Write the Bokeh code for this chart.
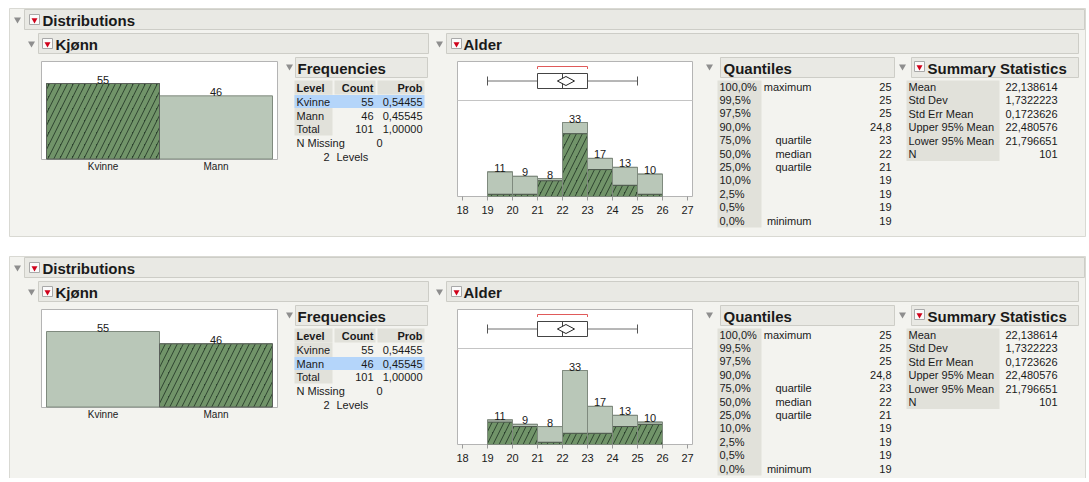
from bokeh.plotting import figure
from bokeh.models import Range1d
from bokeh.core.properties import value
from bokeh.embed import file_html
from bokeh.resources import INLINE

# ---------------- data ----------------
sex_levels = ["Kvinne", "Mann"]
sex_counts = [55, 46]
sex_probs = [0.54455, 0.45545]
sex_total = 101
sex_missing = 0

age_bin_left = [19, 20, 21, 22, 23, 24, 25]
age_bin_right = [20, 21, 22, 23, 24, 25, 26]
age_counts = [11, 9, 8, 33, 17, 13, 10]
age_kvinne = [1, 1, 7, 28, 12, 5, 1]
age_mann = [10, 8, 1, 5, 5, 8, 9]
age_ticks = [18, 19, 20, 21, 22, 23, 24, 25, 26, 27]

box_min, box_q1, box_median, box_q3, box_max = 19, 21, 22, 23, 25
short_half = [21, 23]
age_mean = 22.138614
age_lower95 = 21.796651
age_upper95 = 22.480576

quant_pct = ["100,0%", "99,5%", "97,5%", "90,0%", "75,0%", "50,0%", "25,0%", "10,0%", "2,5%", "0,5%", "0,0%"]
quant_name = ["maximum", "", "", "", "quartile", "median", "quartile", "", "", "", "minimum"]
quant_val = ["25", "25", "25", "24,8", "23", "22", "21", "19", "19", "19", "19"]

stat_names = ["Mean", "Std Dev", "Std Err Mean", "Upper 95% Mean", "Lower 95% Mean", "N"]
stat_vals = ["22,138614", "1,7322223", "0,1723626", "22,480576", "21,796651", "101"]

selected_level = ["Kvinne", "Mann"]   # top panel, bottom panel

# ---------------- page geometry ----------------
W, H = 1086, 478
PX0, PY0 = 1, 1
FONT = value("Liberation Sans")


def xr(v0, p0, v1, p1):
    k = (v1 - v0) / (p1 - p0)
    return Range1d(v0 + (PX0 - p0) * k, v0 + (PX0 + W - p0) * k)


def yr(v0, p0, v1, p1):
    k = (v1 - v0) / (p1 - p0)
    return Range1d(start=v0 + (PY0 + H - p0) * k, end=v0 + (PY0 - p0) * k)


p = figure(width=W, height=H, output_backend="svg", toolbar_location=None,
           x_range=Range1d(PX0, PX0 + W), y_range=Range1d(PY0 + H, PY0),
           x_axis_type=None, y_axis_type=None, min_border=0,
           background_fill_color="white", border_fill_color="white")
p.min_border_left = p.min_border_right = p.min_border_top = p.min_border_bottom = 0
p.outline_line_color = None
p.grid.visible = False

PANEL = "#f3f3ef"
HDR = "#e9e9e4"
HDR_LINE = "#cdcdc7"
CELL = "#e1e1da"
LIGHT = "#b9c7b8"
LIGHT_LINE = "#7f8a7e"
DARK = "#2c422e"
HATCH = "#719469"
TXT = "#1a1a1a"
HS, HW = 12, 4.5

p.extra_x_ranges = {"bx": xr(-0.5, 47, 1.5, 273), "hx": xr(19, 488, 26, 663)}
extra_y = {}

OFFS = [0, 248]


def txt(x, y, t, size="11px", align="left", bold=False, color=TXT, **kw):
    p.text(x=x, y=y, text=t, text_font=FONT, text_font_size=size,
           text_align=align, text_baseline="middle", text_color=color,
           text_font_style="bold" if bold else "normal", **kw)


def header(x0, x1, y0, y1):
    p.quad(left=[x0], right=[x1], top=[y0], bottom=[y1], fill_color=HDR,
           line_color=HDR_LINE, line_width=1)


def disclosure(x, y):
    p.scatter(x=[x], y=[y], marker="inverted_triangle", size=7,
              fill_color="#8e8e8e", line_color=None)


def menu_icon(x, y):
    p.quad(left=[x - 5], right=[x + 5], top=[y - 5], bottom=[y + 5],
           fill_color="#fbfbfb", line_color="#a8a8a8", line_width=1)
    p.scatter(x=[x], y=[y + 0.5], marker="inverted_triangle", size=6,
              fill_color="#d0021b", line_color=None)


for half, dy in enumerate(OFFS):
    sel = selected_level[half]
    sel_idx = sex_levels.index(sel)
    by = f"by{half}"
    hy = f"hy{half}"
    extra_y[by] = yr(0, 159.5 + dy, 55, 84 + dy)
    extra_y[hy] = yr(0, 197 + dy, 33, 123 + dy)
    p.extra_y_ranges = dict(extra_y)

    # outer panel
    p.quad(left=[10], right=[1086], top=[9 + dy], bottom=[237 + dy + (20 if half else 0)],
           fill_color=PANEL, line_color="#d9d9d3")

    # Distributions header
    header(25, 1085, 10 + dy, 30 + dy)
    disclosure(18, 20 + dy)
    menu_icon(35, 20 + dy)
    txt([43], [20.5 + dy], ["Distributions"], size="15px", bold=True)

    # Kjønn header
    header(39, 429, 34 + dy, 54 + dy)
    disclosure(32, 44 + dy)
    menu_icon(48, 44 + dy)
    txt([56], [44.5 + dy], ["Kjønn"], size="15px", bold=True)

    # Alder header
    header(447, 1079, 34 + dy, 54 + dy)
    disclosure(440, 44 + dy)
    menu_icon(457, 44 + dy)
    txt([464], [44.5 + dy], ["Alder"], size="15px", bold=True)

    # ---- bar chart Kjønn ----
    p.quad(left=[42], right=[278], top=[62 + dy], bottom=[160 + dy],
           fill_color="white", line_color="#b4b4b4")
    xs = list(range(len(sex_levels)))
    p.quad(left=[i - 0.5 for i in xs], right=[i + 0.5 for i in xs],
           bottom=[0] * len(xs), top=sex_counts, fill_color=LIGHT,
           line_color=LIGHT_LINE, x_range_name="bx", y_range_name=by)
    p.quad(left=[sel_idx - 0.5], right=[sel_idx + 0.5], bottom=[0],
           top=[sex_counts[sel_idx]], fill_color=DARK, hatch_pattern="/",
           hatch_color=HATCH, hatch_scale=HS, hatch_weight=HW,
           line_color="#5a5f5a", x_range_name="bx", y_range_name=by)
    p.text(x=xs, y=sex_counts, text=[str(c) for c in sex_counts],
           text_font=FONT, text_font_size="11px", text_align="center",
           text_baseline="bottom", text_color=TXT, x_range_name="bx", y_range_name=by)
    p.text(x=xs, y=[167 + dy] * len(xs), text=sex_levels, text_font=FONT,
           text_font_size="10px", text_align="center", text_baseline="middle",
           text_color=TXT, x_range_name="bx")

    # ---- Frequencies ----
    disclosure(290, 67 + dy)
    header(296, 428, 58 + dy, 78 + dy)
    txt([298], [68.5 + dy], ["Frequencies"], size="15px", bold=True)
    p.quad(left=[295, 335, 378], right=[333, 376, 425], top=[81 + dy] * 3,
           bottom=[95 + dy] * 3, fill_color=CELL, line_color=None)
    p.quad(left=[295], right=[333], top=[95 + dy], bottom=[136 + dy],
           fill_color=CELL, line_color=None)
    row_y = [102 + dy, 116 + dy]
    p.quad(left=[295], right=[425], top=[row_y[sel_idx] - 6.5], bottom=[row_y[sel_idx] + 6.5],
           fill_color="#b4d5fa", line_color=None)
    txt([297], [88 + dy], ["Level"], bold=True)
    txt([374, 423], [88 + dy] * 2, ["Count", "Prob"], align="right", bold=True)
    txt([297] * 3, row_y + [129 + dy], sex_levels + ["Total"])
    txt([374] * 3, row_y + [129 + dy], [str(c) for c in sex_counts] + [str(sex_total)], align="right")
    txt([423] * 3, row_y + [129 + dy],
        [f"{v:.5f}".replace(".", ",") for v in sex_probs] + ["1,00000"], align="right")
    txt([297], [143 + dy], ["N Missing"])
    txt([380], [143 + dy], [str(sex_missing)], align="center")
    txt([330], [157 + dy], [str(len(sex_levels))], align="right")
    txt([337], [157 + dy], ["Levels"])

    # ---- Alder histogram + box plot ----
    p.quad(left=[458], right=[693], top=[62 + dy], bottom=[197 + dy],
           fill_color="white", line_color="#b4b4b4")
    p.segment(x0=[458], x1=[693], y0=[101 + dy], y1=[101 + dy], line_color="#c4c4c4")
    # box plot
    by_c = 81.5 + dy
    p.segment(x0=[box_min, box_q3], x1=[box_q1, box_max], y0=[by_c, by_c], y1=[by_c, by_c],
              line_color="#6e6e6e", line_width=1, x_range_name="hx")
    p.segment(x0=[box_min, box_max], x1=[box_min, box_max], y0=[77 + dy] * 2,
              y1=[86 + dy] * 2, line_color="#555555", x_range_name="hx")
    p.quad(left=[box_q1], right=[box_q3], top=[74 + dy], bottom=[89 + dy],
           fill_color="white", line_color="#444444", line_width=1, x_range_name="hx")
    p.segment(x0=[box_median], x1=[box_median], y0=[74 + dy], y1=[89 + dy],
              line_color="#444444", x_range_name="hx")
    p.patch(x=[age_lower95, age_mean, age_upper95, age_mean],
            y=[by_c, by_c - 4.5, by_c, by_c + 4.5], fill_color="white",
            line_color="#222222", line_width=1, x_range_name="hx")
    p.multi_line(xs=[[short_half[0], short_half[0], short_half[1], short_half[1]]],
                 ys=[[69.5 + dy, 67 + dy, 67 + dy, 69.5 + dy]], line_color="#e05a5a",
                 line_width=1, x_range_name="hx")
    # histogram
    sel_counts = age_kvinne if sel == "Kvinne" else age_mann
    p.quad(left=age_bin_left, right=age_bin_right, bottom=[0] * 7, top=age_counts,
           fill_color=LIGHT, line_color=LIGHT_LINE, x_range_name="hx", y_range_name=hy)
    p.quad(left=age_bin_left, right=age_bin_right, bottom=[0] * 7, top=sel_counts,
           fill_color=DARK, hatch_pattern="/", hatch_color=HATCH, hatch_scale=HS,
           hatch_weight=HW, line_color="#4d564d", x_range_name="hx", y_range_name=hy)
    p.quad(left=age_bin_left, right=age_bin_right, bottom=[0] * 7, top=age_counts,
           fill_color=None, line_color=LIGHT_LINE, x_range_name="hx", y_range_name=hy)
    centers = [(a + b) / 2 for a, b in zip(age_bin_left, age_bin_right)]
    p.text(x=centers, y=age_counts, text=[str(c) for c in age_counts], text_font=FONT,
           text_font_size="11px", text_align="center", text_baseline="bottom",
           text_color=TXT, x_range_name="hx", y_range_name=hy)
    p.segment(x0=age_ticks, x1=age_ticks, y0=[197 + dy] * len(age_ticks),
              y1=[201 + dy] * len(age_ticks), line_color="#9a9a9a", x_range_name="hx")
    p.text(x=age_ticks, y=[210 + dy] * len(age_ticks), text=[str(t) for t in age_ticks],
           text_font=FONT, text_font_size="11px", text_align="center",
           text_baseline="middle", text_color=TXT, x_range_name="hx")

    # ---- Quantiles ----
    disclosure(710, 67 + dy)
    header(721, 895, 58 + dy, 78 + dy)
    txt([724], [68.5 + dy], ["Quantiles"], size="15px", bold=True)
    qy = [87 + dy + 13.4 * i for i in range(len(quant_pct))]
    p.quad(left=[718], right=[762], top=[81 + dy], bottom=[qy[-1] + 7],
           fill_color=CELL, line_color=None)
    txt([720] * len(qy), qy, quant_pct)
    txt([812] * len(qy), qy, quant_name, align="right")
    txt([892] * len(qy), qy, quant_val, align="right")

    # ---- Summary Statistics ----
    disclosure(903, 67 + dy)
    header(912, 1079, 58 + dy, 78 + dy)
    menu_icon(920, 67 + dy)
    txt([928], [68.5 + dy], ["Summary Statistics"], size="15px", bold=True)
    sy = [87 + dy + 13.5 * i for i in range(len(stat_names))]
    p.quad(left=[907], right=[1000], top=[81 + dy], bottom=[sy[-1] + 7],
           fill_color=CELL, line_color=None)
    txt([909] * len(sy), sy, stat_names)
    txt([1058] * len(sy), sy, stat_vals, align="right")

p.extra_y_ranges = dict(extra_y)

open("out.html", "w").write(file_html(p, INLINE))
